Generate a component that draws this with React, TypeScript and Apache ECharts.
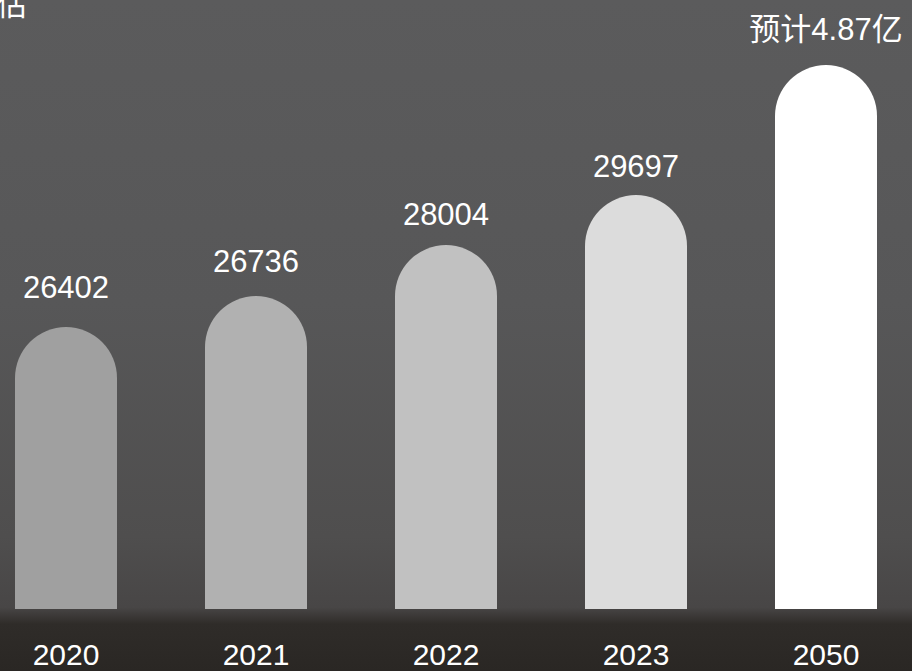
import React, { useEffect, useRef } from "react";
import * as echarts from "echarts";

const categories = ["2020", "2021", "2022", "2023", "2050"];
// visual bar heights (chart is pictorial, not proportional to the labels)
const barHeights = [282, 313, 364, 414, 544];
const valueLabels = ["26402", "26736", "28004", "29697", "预计4.87亿"];
const barColors = ["#a0a0a0", "#b1b1b1", "#c1c1c1", "#dcdcdc", "#ffffff"];
const labelDistances = [24, 19, 15, 13, 20];
const titleFragment = "估";

const FONT = "'Liberation Sans', 'Noto Sans CJK SC', Arial, sans-serif";
const SHIFT = 29;

export default function App() {
  const ref = useRef<HTMLDivElement>(null);
  useEffect(() => {
    if (!ref.current) return;
    const chart = echarts.init(ref.current, undefined, { renderer: "svg" });
    chart.setOption({
      animation: false,
      backgroundColor: "transparent",
      graphic: [
        {
          type: "text",
          left: SHIFT - 3,
          top: -11,
          style: { text: titleFragment, fill: "#ffffff", fontSize: 30, fontFamily: FONT },
        },
      ],
      grid: { left: 0, right: 0, top: 65, bottom: 62, containLabel: false },
      xAxis: {
        type: "category",
        data: categories,
        axisLine: { show: false },
        axisTick: { show: false },
        axisLabel: {
          color: "#ffffff",
          fontSize: 30,
          lineHeight: 26,
          fontFamily: FONT,
          margin: 32,
        },
      },
      yAxis: {
        type: "value",
        min: 0,
        max: 544,
        show: false,
        splitLine: { show: false },
      },
      series: [
        {
          type: "bar",
          barWidth: 102,
          data: barHeights.map((v, i) => ({
            value: v,
            itemStyle: { color: barColors[i], borderRadius: [51, 51, 0, 0] },
            label: {
              show: true,
              position: "top",
              distance: labelDistances[i],
              formatter: valueLabels[i],
              color: "#ffffff",
              fontSize: 31,
              fontFamily: FONT,
            },
          })),
        },
      ],
    });
    return () => chart.dispose();
  }, []);
  return (
    <div
      style={{
        position: "fixed",
        left: 0,
        top: 0,
        width: 912,
        height: 671,
        overflow: "hidden",
        background:
          "linear-gradient(to bottom, #5b5b5c 0%, #575758 45%, #4f4e4e 80%, #484646 90.5%, #2f2c29 93%, #2a2724 100%)",
      }}
    >
      <div
        ref={ref}
        style={{ position: "absolute", left: -SHIFT, top: 0, width: 950, height: 671 }}
      />
    </div>
  );
}
